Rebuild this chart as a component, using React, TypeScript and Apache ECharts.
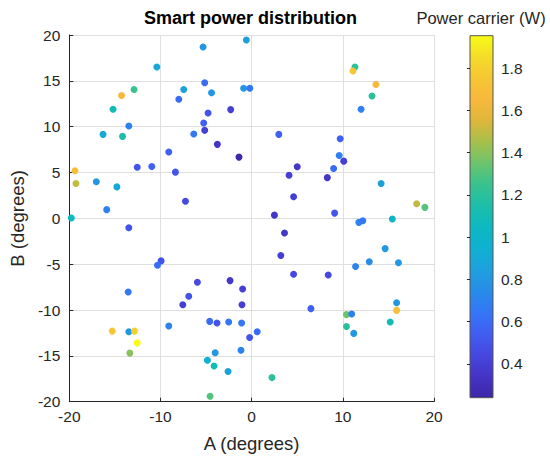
import React, { useEffect, useRef } from "react";
import * as echarts from "echarts";

// Data
const aDegrees = [
  -0.58, -5.33, -10.4, -12.9, -14.27, -15.2, -5.15, -7.45, -4.4, -0.88, -0.2, -7.99, -4.78, -2.3, -5.26, -5.15, -6.35,
  -3.76, -1.39, -13.47, -16.3, -14.16, -9.09, -12.55, -10.95, -8.36, -19.38, -19.27, -17.04, -14.78, -7.26, -15.9, -19.78,
  11.33, 11.11, 13.63, 13.2, 12.0, 2.98, 9.71, 9.6, 10.1, 8.99, 5.0, 4.1, 8.3, 4.6, 2.5, 9.1, 14.2, 18.1, 19.0,
  -13.47, -9.93, -10.33, -5.95, -2.37, -0.99, -6.9, -7.55, -1.06, -13.54, -9.09, -15.29, -13.47, -12.85, -12.55, -13.36,
  -4.6, -3.8, -2.52, -1.1, -1.17, -4.0, -4.85, -4.12, -2.59, -4.56,
  11.76, 12.19, 15.43, 3.6, 3.2, 14.64, 12.9, 16.1, 11.4, 4.6, 8.4, 6.5, 15.9, 15.9, 10.4, 10.97, 10.4, 11.2, 15.2,
  -0.22, 0.61, 2.23,
];
const bDegrees = [
  19.45, 18.7, 16.5, 14.05, 13.4, 11.9, 14.8, 14.05, 13.7, 14.2, 14.2, 13.0, 11.5, 11.86, 10.4, 9.6, 9.2,
  8.07, 6.68, 10.07, 9.16, 8.94, 7.23, 5.58, 5.66, 5.04, 5.2, 3.8, 4.0, 3.43, 1.86, 0.95, 0.04,
  16.5, 16.08, 14.6, 13.35, 11.9, 9.16, 8.69, 6.86, 6.24, 5.44, 5.62, 4.7, 4.44, 2.36, 0.35, 0.57, 3.8, 1.6, 1.2,
  -1.02, -4.64, -5.11, -6.97, -6.79, -7.7, -8.5, -9.42, -9.42, -8.03, -11.75, -12.3, -12.37, -12.3, -13.58, -14.7,
  -11.24, -11.42, -11.3, -11.42, -14.38, -14.67, -15.47, -16.1, -16.7, -19.4,
  -0.44, -0.26, -0.07, -1.6, -4.05, -3.3, -4.74, -4.85, -5.26, -6.1, -6.17, -9.85, -9.2, -10.04, -10.5, -10.44, -11.8, -12.55, -11.3,
  -12.99, -12.37, -17.37,
];
const powerW = [
  0.85, 0.8, 0.9, 1.25, 1.65, 1.1, 0.6, 0.85, 0.8, 0.8, 0.65, 0.6, 0.5, 0.4, 0.55, 0.4, 0.65,
  0.35, 0.25, 0.7, 0.9, 1.15, 0.55, 0.5, 0.55, 0.5, 1.7, 1.5, 0.8, 0.9, 0.45, 0.7, 1.05,
  1.2, 1.75, 1.65, 1.2, 0.7, 0.55, 0.55, 0.7, 0.4, 0.6, 0.35, 0.4, 0.35, 0.4, 0.35, 0.5, 0.85, 1.5, 1.3,
  0.5, 0.5, 0.6, 0.45, 0.35, 0.4, 0.5, 0.4, 0.4, 0.65, 0.7, 1.75, 0.8, 1.8, 1.95, 1.4,
  0.6, 0.5, 0.65, 0.65, 0.7, 0.8, 0.95, 1.1, 0.85, 1.3,
  0.7, 0.65, 1.0, 0.35, 0.4, 0.8, 0.75, 0.8, 0.7, 0.45, 0.45, 0.55, 0.8, 1.7, 1.35, 0.7, 1.2, 0.8, 1.1,
  0.5, 0.6, 1.2,
];
const colorbarTicks = [0.4, 0.6, 0.8, 1.0, 1.2, 1.4, 1.6, 1.8];
const colorMin = 0.24;
const colorMax = 1.954;

const parula = [
  "#3E26A8", "#4434C4", "#4647DF", "#405EF2", "#3476F6", "#288CE8", "#1EA0DE", "#10B0D2", "#0CB8C2",
  "#1CBEAA", "#38C290", "#6CC46C", "#A6C04C", "#DEB63A", "#F8B83C", "#F6C634", "#F4DC28", "#F9FB15",
];

const FONT = "Liberation Sans, Arial, sans-serif";
const TXT = "#262626";

export default function App() {
  const ref = useRef<HTMLDivElement>(null);
  useEffect(() => {
    document.body.style.margin = "0";
    const chart = echarts.init(ref.current!, undefined, { renderer: "svg" });
    const data = aDegrees.map((a, i) => [a, bDegrees[i], powerW[i]]);
    const gl = 67, gt = 35, gw = 367, gh = 366.7;
    const cbL = 470, cbT = 35.7, cbW = 23, cbH = 362;
    const stops = parula.map((c, i) => ({ offset: i / (parula.length - 1), color: c }));
    chart.setOption({
      animation: false,
      textStyle: { fontFamily: FONT },
      grid: [
        { left: gl, top: gt, width: gw, height: gh },
        { left: cbL, top: cbT, width: cbW, height: cbH },
      ],
      xAxis: [
        {
          type: "value", min: -20, max: 20, interval: 10,
          name: "A (degrees)", nameLocation: "middle", nameGap: 32,
          nameTextStyle: { fontSize: 18.5, color: TXT, fontFamily: FONT },
          axisLine: { show: true, onZero: false, lineStyle: { color: TXT, width: 1 } },
          axisTick: { show: true, inside: true, length: 4, lineStyle: { color: TXT } },
          axisLabel: { fontSize: 15.5, color: TXT, margin: 7, fontFamily: FONT },
          splitLine: { show: true, lineStyle: { color: "#dfdfdf", width: 1 } },
        },
        { gridIndex: 1, type: "value", min: 0, max: 1, show: false },
      ],
      yAxis: [
        {
          type: "value", min: -20, max: 20, interval: 5,
          name: "B (degrees)", nameLocation: "middle", nameGap: 40,
          nameTextStyle: { fontSize: 18.5, color: TXT, fontFamily: FONT },
          axisLine: { show: true, onZero: false, lineStyle: { color: TXT, width: 1 } },
          axisTick: { show: true, inside: true, length: 4, lineStyle: { color: TXT } },
          axisLabel: { fontSize: 15.5, color: TXT, margin: 9, fontFamily: FONT },
          splitLine: { show: true, lineStyle: { color: "#dfdfdf", width: 1 } },
        },
        {
          gridIndex: 1, type: "value", min: colorMin, max: colorMax, position: "right", z: 10,
          axisLine: { show: false },
          axisTick: { show: true, inside: true, length: 3, customValues: colorbarTicks, lineStyle: { color: TXT } },
          axisLabel: {
            fontSize: 15.5, color: TXT, margin: 8, fontFamily: FONT, customValues: colorbarTicks,
            formatter: (v: number) => String(Math.round(v * 10) / 10),
          },
          splitLine: { show: false },
        },
      ],
      visualMap: {
        show: false, type: "continuous", min: colorMin, max: colorMax, dimension: 2, seriesIndex: 0,
        inRange: { color: parula },
      },
      graphic: [
        {
          type: "rect", z: 1,
          shape: { x: cbL, y: cbT, width: cbW, height: cbH },
          style: { fill: new echarts.graphic.LinearGradient(0, 1, 0, 0, stops), stroke: "#555", lineWidth: 1 },
        },
        {
          type: "text", x: gl + gw / 2, y: 18,
          style: { text: "Smart power distribution", font: `bold 18px ${FONT}`, fill: "#000", textAlign: "center", textVerticalAlign: "middle" },
        },
        {
          type: "text", x: 481, y: 18,
          style: { text: "Power carrier (W)", font: `16.5px ${FONT}`, fill: TXT, textAlign: "center", textVerticalAlign: "middle" },
        },
      ],
      series: [
        {
          type: "scatter", xAxisIndex: 0, yAxisIndex: 0, data, symbol: "circle", symbolSize: 7,
          itemStyle: { opacity: 1 },
        },
      ],
    });
    return () => chart.dispose();
  }, []);
  return <div ref={ref} style={{ width: 550, height: 459, position: "absolute", left: 0, top: 0 }} />;
}
